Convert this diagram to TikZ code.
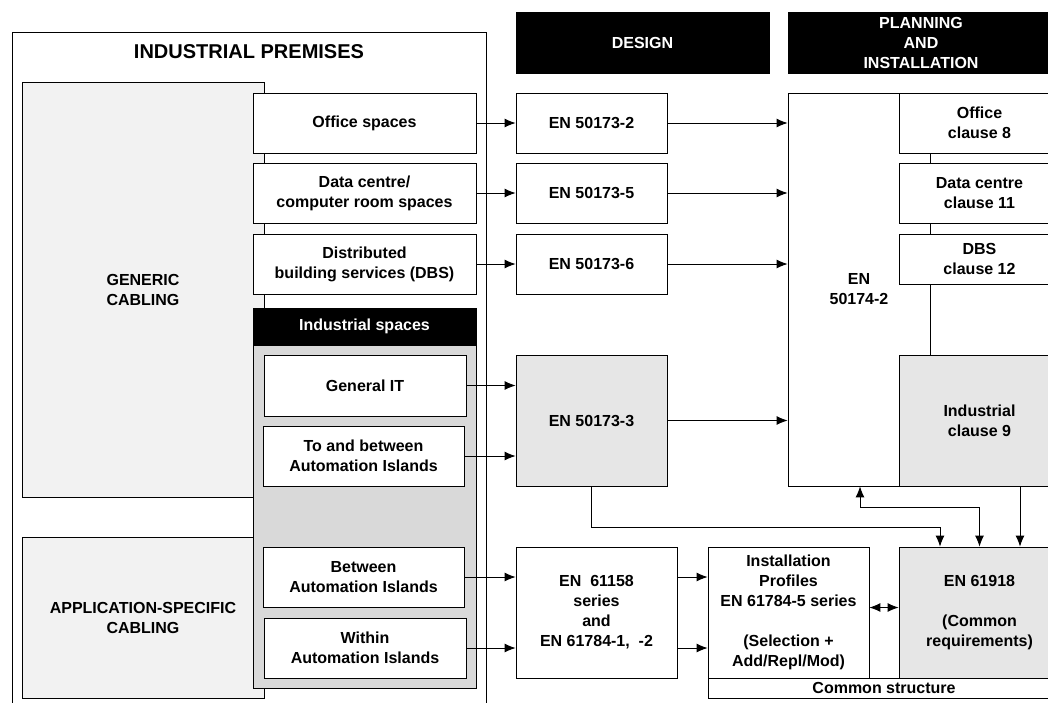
\documentclass[tikz,border=0pt]{standalone}
\usepackage{fontspec}
\setmainfont{Liberation Sans}
\usetikzlibrary{arrows.meta}

\definecolor{cablegray}{HTML}{F2F2F2}
\definecolor{panelgray}{HTML}{D9D9D9}
\definecolor{stdgray}{HTML}{E6E6E6}

\tikzset{
  boxw/.style={draw, line width=0.8pt, fill=white, align=center, inner sep=0pt,
    font=\fontsize{16}{20}\selectfont\bfseries},
  boxg/.style={boxw, fill=stdgray},
  headbox/.style={boxw, fill=black, text=white},
  arr/.style={line width=0.9pt, -{Latex[length=11pt,width=9pt]}},
  dblarr/.style={line width=0.9pt, {Latex[length=11pt,width=9pt]}-{Latex[length=11pt,width=9pt]}}
}

\begin{document}
\begin{tikzpicture}[x=1pt,y=-1pt]
\useasboundingbox (0,0) rectangle (1048,702);
\clip (0,0) rectangle (1048,702);
\fill[white] (0,0) rectangle (1048,702);

% industrial premises
\node[draw, line width=0.8pt, minimum width=474pt, minimum height=690pt] (premises) at (249,377) {};
\node[font=\fontsize{20}{24}\selectfont\bfseries] (premtitle) at (249,52) {INDUSTRIAL PREMISES};
\node[boxw, fill=cablegray, minimum width=242pt, minimum height=415pt] (generic) at (143,289.5) {GENERIC\\CABLING};
\node[boxw, fill=cablegray, minimum width=242pt, minimum height=161pt] (appspec) at (143,617.5) {APPLICATION-SPECIFIC\\CABLING};

\node[boxw, minimum width=223pt, minimum height=60pt] (office) at (364.5,123) {Office spaces};
\node[boxw, minimum width=223pt, minimum height=60pt] (datacentre) at (364.5,193) {Data centre/\\computer room spaces};
\node[boxw, minimum width=223pt, minimum height=60pt] (dbs) at (364.5,264) {Distributed\\building services (DBS)};

% industrial spaces
\node[headbox, minimum width=223pt, minimum height=37pt] (indhead) at (364.5,326.5) {Industrial spaces};
\node[boxw, fill=panelgray, minimum width=223pt, minimum height=343pt] (indpanel) at (364.5,516.5) {};
\node[boxw, minimum width=202pt, minimum height=61pt] (genit) at (365,385.5) {General IT};
\node[boxw, minimum width=201pt, minimum height=60pt] (tobetween) at (363.5,456) {To and between\\Automation Islands};
\node[boxw, minimum width=201pt, minimum height=60pt] (betweenai) at (363.5,577) {Between\\Automation Islands};
\node[boxw, minimum width=202pt, minimum height=60pt] (withinai) at (365,648) {Within\\Automation Islands};

% design
\node[headbox, minimum width=253pt, minimum height=61pt] (designhead) at (642.5,42.5) {DESIGN};
\node[boxw, minimum width=151pt, minimum height=60pt] (en2) at (591.5,123) {EN 50173-2};
\node[boxw, minimum width=151pt, minimum height=60pt] (en5) at (591.5,193) {EN 50173-5};
\node[boxw, minimum width=151pt, minimum height=60pt] (en6) at (591.5,264) {EN 50173-6};
\node[boxg, minimum width=151pt, minimum height=131pt] (en3) at (591.5,420.5) {EN 50173-3};
\node[boxw, minimum width=161pt, minimum height=131pt] (en61158) at (596.5,612.5) {EN\ \ 61158\\series\\and\\EN 61784-1,\ \ -2};

% planning and installation
\node[headbox, minimum width=266pt, minimum height=61pt] (planhead) at (921,42.5) {PLANNING\\AND\\INSTALLATION};
\node[boxw, minimum width=272pt, minimum height=393pt] (en50174) at (924,289.5) {};
\node[boxw, draw=none, fill=none] (en50174txt) at (859,289) {EN\\50174-2};
\coordinate (split) at (930,93);
\draw[line width=0.8pt] (split) -- (split |- en50174.south);
\node[boxw, minimum width=161pt, minimum height=60pt] (officecl) at (979.5,123) {Office\\clause 8};
\node[boxw, minimum width=161pt, minimum height=60pt] (dccl) at (979.5,193) {Data centre\\clause 11};
\node[boxw, minimum width=161pt, minimum height=50pt] (dbscl) at (979.5,259) {DBS\\clause 12};
\node[boxg, minimum width=161pt, minimum height=131pt] (indcl) at (979.5,420.5) {Industrial\\clause 9};
\node[boxw, minimum width=161pt, minimum height=131pt] (instprof) at (788.5,612.5) {Installation\\Profiles\\EN 61784-5 series\\[20pt](Selection +\\Add/Repl/Mod)};
\node[boxg, minimum width=161pt, minimum height=131pt] (en61918) at (979.5,612.5) {EN 61918\\[20pt](Common\\requirements)};
\node[boxw, minimum width=352pt, minimum height=20pt] (commonstr) at (884,688) {Common structure};

% connectors
\draw[arr] (office) -- (en2);
\draw[arr] (datacentre) -- (en5);
\draw[arr] (dbs) -- (en6);
\draw[arr] (en2) -- (en2 -| en50174.west);
\draw[arr] (en5) -- (en5 -| en50174.west);
\draw[arr] (en6) -- (en6 -| en50174.west);
\draw[arr] (genit.east) -- (genit.east -| en3.west);
\draw[arr] (tobetween.east) -- (tobetween.east -| en3.west);
\draw[arr] (en3.east) -- (en3.east -| en50174.west);
\draw[arr] (betweenai.east) -- (betweenai.east -| en61158.west);
\draw[arr] (withinai.east) -- (withinai.east -| en61158.west);
\draw[arr] (en61158.east |- betweenai.east) -- (instprof.west |- betweenai.east);
\draw[arr] (en61158.east |- withinai.east) -- (instprof.west |- withinai.east);
\draw[dblarr] ([yshift=5pt]instprof.east) -- ([yshift=5pt]en61918.west);

\coordinate (j1) at (940,527);
\coordinate (j2) at (860,507);
\coordinate (j3) at (1020,486);
\draw[arr] (en3.south) |- (j1) -- (j1 |- en61918.north);
\draw[dblarr] (j2 |- en50174.south) -- (j2) -| (en61918.north);
\draw[arr] (j3) -- (j3 |- en61918.north);
\end{tikzpicture}
\end{document}
